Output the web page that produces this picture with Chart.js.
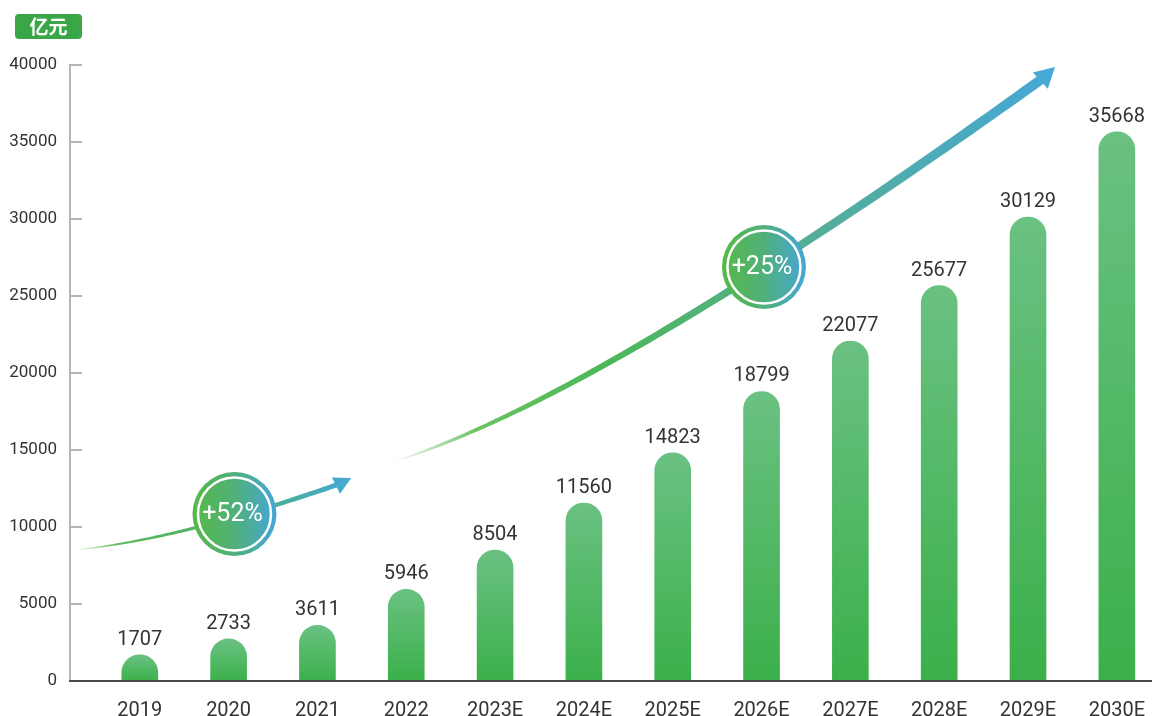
<!DOCTYPE html>
<html>
<head>
<meta charset="utf-8">
<script src="https://cdn.jsdelivr.net/npm/chart.js@4.4.0/dist/chart.umd.min.js"></script>
<style>
  html, body { margin: 0; padding: 0; background: #fff; }
  #wrap { width: 1155px; height: 716px; position: relative; }
</style>
</head>
<body>
<div id="wrap"><canvas id="marketChart"></canvas></div>
<script>
// 市场规模（亿元）
const categories = ["2019", "2020", "2021", "2022", "2023E", "2024E", "2025E", "2026E", "2027E", "2028E", "2029E", "2030E"]
const marketSize = [1707, 2733, 3611, 5946, 8504, 11560, 14823, 18799, 22077, 25677, 30129, 35668]
const yMax = 40000
const yStep = 5000
const unitLabel = "亿元"
const growthLabels = ["+52%", "+25%"]

// 趋势箭头（数据坐标：x 为类目序号，y 为数值）
const trendArrows = [
  {
    from: [-0.73, 8506], ctrl: [0.471, 9221], to: [2.245, 12792], tip: [2.38, 13182],
    width: 5, headLen: 17, headHalf: 9,
    stops: [[0, "rgba(92,184,80,0.15)"], [0.15, "#5cb85a"], [0.55, "#4fb36c"], [1, "#45a8d8"]],
  },
  {
    from: [2.806, 14156], ctrl: [5.118, 18182], to: [10.17, 39156], tip: [10.304, 39870],
    width: 10, headLen: 20, headHalf: 11,
    stops: [[0, "rgba(80,184,72,0)"], [0.12, "rgba(80,184,72,0.85)"], [0.3, "#4db758"], [0.6, "#55ae94"], [1, "#45a8d8"]],
  },
]
const growthBadges = [
  { at: [1.066, 10844], text: growthLabels[0] },
  { at: [7.027, 26883], text: growthLabels[1] },
]

const xMin = -0.7857
const xMax = 11.393

const barGradient = (c) => {
  const chart = c.chart
  const { ctx, chartArea, scales } = chart
  if (!chartArea || c.type !== "data") return "#4cb55c"
  const top = scales.y.getPixelForValue(marketSize[c.dataIndex])
  const base = scales.y.getPixelForValue(0)
  const g = ctx.createLinearGradient(0, top, 0, base)
  g.addColorStop(0, "#6ac182")
  g.addColorStop(1, "#3bb04a")
  return g
}

const decorPlugin = {
  id: "decor",
  afterDatasetsDraw(chart) {
    const { ctx, scales } = chart
    const px = (p) => [scales.x.getPixelForValue(p[0]), scales.y.getPixelForValue(p[1])]

    // 柱顶数值
    const meta = chart.getDatasetMeta(0)
    ctx.save()
    ctx.font = "20px Roboto"
    ctx.fillStyle = "#333"
    ctx.textAlign = "center"
    ctx.textBaseline = "alphabetic"
    meta.data.forEach((bar, i) => {
      ctx.fillText(String(marketSize[i]), bar.x, bar.y - 10)
    })
    ctx.restore()

    // 箭头
    trendArrows.forEach((a) => {
      const p0 = px(a.from), c = px(a.ctrl), p2 = px(a.to), tip = px(a.tip)
      const grad = ctx.createLinearGradient(p0[0], p0[1], tip[0], tip[1])
      a.stops.forEach((s) => grad.addColorStop(s[0], s[1]))
      const n = 100
      const left = [], right = []
      for (let k = 0; k <= n; k++) {
        const t = k / n
        const x = (1 - t) * (1 - t) * p0[0] + 2 * t * (1 - t) * c[0] + t * t * p2[0]
        const y = (1 - t) * (1 - t) * p0[1] + 2 * t * (1 - t) * c[1] + t * t * p2[1]
        const dx = 2 * (1 - t) * (c[0] - p0[0]) + 2 * t * (p2[0] - c[0])
        const dy = 2 * (1 - t) * (c[1] - p0[1]) + 2 * t * (p2[1] - c[1])
        const len = Math.hypot(dx, dy)
        const nx = -dy / len, ny = dx / len
        const w = a.width * Math.pow(t, 0.6) / 2
        left.push([x + nx * w, y + ny * w])
        right.push([x - nx * w, y - ny * w])
      }
      ctx.save()
      ctx.fillStyle = grad
      ctx.beginPath()
      left.forEach((p, i) => (i ? ctx.lineTo(p[0], p[1]) : ctx.moveTo(p[0], p[1])))
      for (let i = right.length - 1; i >= 0; i--) ctx.lineTo(right[i][0], right[i][1])
      ctx.closePath()
      ctx.fill()
      // 箭头头部
      const dx = tip[0] - p2[0], dy = tip[1] - p2[1]
      const dl = Math.hypot(dx, dy)
      const ux = dx / dl, uy = dy / dl
      const bx = tip[0] - ux * a.headLen, by = tip[1] - uy * a.headLen
      ctx.beginPath()
      ctx.moveTo(tip[0], tip[1])
      ctx.lineTo(bx - uy * a.headHalf, by + ux * a.headHalf)
      ctx.lineTo(bx + uy * a.headHalf, by - ux * a.headHalf)
      ctx.closePath()
      ctx.fill()
      ctx.restore()
    })

    // 增长率圆标
    growthBadges.forEach((b) => {
      const [cx, cy] = px(b.at)
      const r = 42
      const g = ctx.createLinearGradient(cx - r, 0, cx + r, 0)
      g.addColorStop(0, "#56b947")
      g.addColorStop(0.5, "#50b07a")
      g.addColorStop(1, "#45a6d8")
      ctx.save()
      ctx.fillStyle = g
      ctx.beginPath()
      ctx.arc(cx, cy, r, 0, Math.PI * 2)
      ctx.fill()
      ctx.strokeStyle = "#fff"
      ctx.lineWidth = 2.5
      ctx.beginPath()
      ctx.arc(cx, cy, r - 5.5, 0, Math.PI * 2)
      ctx.stroke()
      ctx.fillStyle = "#fff"
      ctx.font = "25px Roboto"
      ctx.textAlign = "center"
      ctx.textBaseline = "middle"
      ctx.fillText(b.text, cx - 2, cy + 1)
      ctx.restore()
    })
  },
  afterDraw(chart) {
    const { ctx, scales } = chart
    const ys = scales.y
    // y 轴内向刻度
    ctx.save()
    ctx.strokeStyle = "#b5b5b5"
    ctx.lineWidth = 2
    ys.ticks.forEach((t) => {
      if (t.value === 0) return
      const y = Math.round(ys.getPixelForValue(t.value))
      ctx.beginPath()
      ctx.moveTo(ys.right, y)
      ctx.lineTo(ys.right + 12, y)
      ctx.stroke()
    })
    // 单位标签
    ctx.fillStyle = "#3aa648"
    ctx.beginPath()
    ctx.roundRect(15, 14, 67, 25, 4)
    ctx.fill()
    ctx.fillStyle = "#fff"
    ctx.font = "bold 19px 'Noto Sans CJK SC'"
    ctx.textAlign = "center"
    ctx.textBaseline = "middle"
    ctx.fillText(unitLabel, 48.5, 27)
    ctx.restore()
  },
}

new Chart(document.getElementById("marketChart"), {
  type: "bar",
  data: {
    datasets: [
      {
        data: marketSize.map((v, i) => ({ x: i, y: v })),
        backgroundColor: barGradient,
        barThickness: 36,
        // 柱底延伸到坐标轴以下（被绘图区裁掉），保证矮柱也有完整圆顶
        base: -1500,
        borderRadius: { topLeft: 18, topRight: 18, bottomLeft: 0, bottomRight: 0 },
        borderSkipped: "bottom",
      },
    ],
  },
  options: {
    responsive: true,
    maintainAspectRatio: false,
    animation: false,
    layout: { padding: { top: 65, right: 0, left: 0, bottom: 0 } },
    plugins: { legend: { display: false }, tooltip: { enabled: false } },
    scales: {
      x: {
        type: "linear",
        min: xMin,
        max: xMax,
        offset: false,
        grid: { display: false, offset: false },
        border: { color: "#4a4a4a", width: 2, z: 1 },
        afterBuildTicks: (scale) => {
          scale.ticks = categories.map((_, i) => ({ value: i }))
        },
        afterFit: (scale) => { scale.height = 35 },
        ticks: {
          autoSkip: false,
          maxRotation: 0,
          padding: 10,
          color: "#333",
          font: { family: "Roboto", size: 20 },
          callback: (v) => categories[v],
        },
      },
      y: {
        min: 0,
        max: yMax,
        grid: { display: false, drawTicks: false },
        border: { color: "#b5b5b5", width: 2 },
        afterFit: (scale) => { scale.width = 70 },
        ticks: {
          stepSize: yStep,
          padding: 13,
          color: "#333",
          font: { family: "Roboto", size: 17 },
          callback: (v) => String(v),
        },
      },
    },
  },
  plugins: [decorPlugin],
})
</script>
</body>
</html>
